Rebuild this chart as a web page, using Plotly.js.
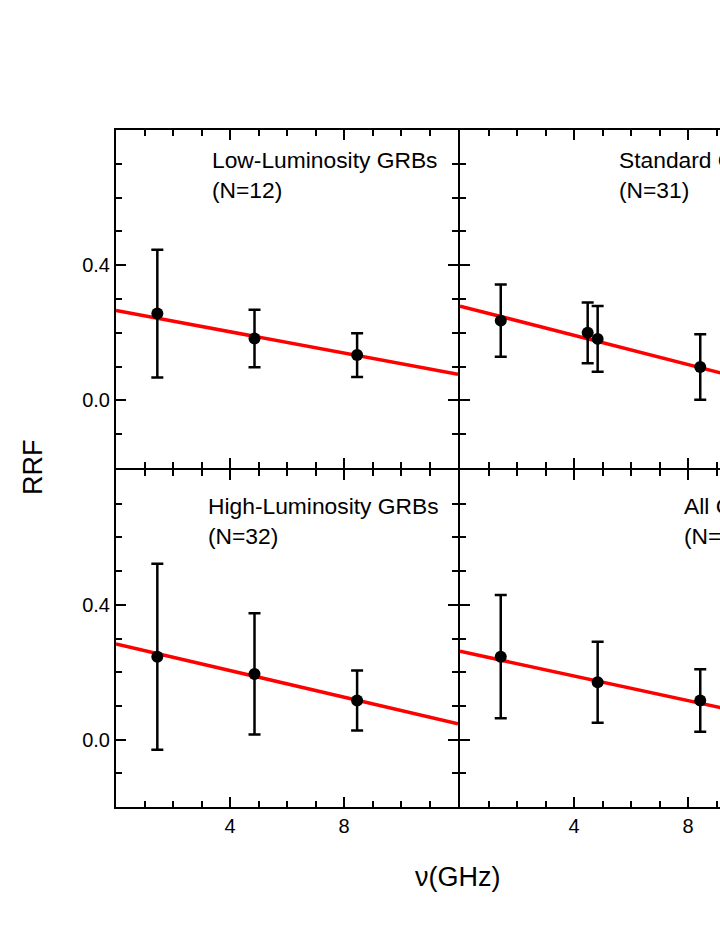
<!DOCTYPE html>
<html>
<head>
<meta charset="utf-8">
<script src="https://cdn.plot.ly/plotly-3.0.1.min.js"></script>
<style>
	html, body { margin: 0; padding: 0; overflow: hidden; background: #fff; }
	#plot { width: 900px; height: 931px; }
</style>
</head>
<body>
<div id="plot"></div>
<script>
"use strict"

// frequencies (GHz), RRF values and errors per sample
let nuLow = [1.45, 4.86, 8.46],
	rrfLow = [0.257, 0.183, 0.134],
	errLow = [0.189, 0.085, 0.065];

let nuStd = [1.43, 4.48, 4.83, 8.43],
	rrfStd = [0.236, 0.200, 0.182, 0.099],
	errStd = [0.107, 0.090, 0.097, 0.097];

let nuHigh = [1.45, 4.86, 8.46],
	rrfHigh = [0.246, 0.195, 0.116],
	errHigh = [0.276, 0.180, 0.089];

let nuAll = [1.43, 4.83, 8.43],
	rrfAll = [0.246, 0.170, 0.116],
	errAll = [0.183, 0.120, 0.093];

// linear fits: RRF = a + b*nu
let fitIntercept = [0.266, 0.279, 0.284, 0.262],
	fitSlope = [-0.01575, -0.0216, -0.01975, -0.0183];

let panelNames = ['Low-Luminosity GRBs', 'Standard GRBs', 'High-Luminosity GRBs', 'All GRBs'],
	panelN = [12, 31, 32, 75];

let xRange = [0, 12],
	yRange = [-0.2, 0.8];

let font = 'Arial, "Liberation Sans", sans-serif';

let samples = [
	[nuLow, rrfLow, errLow],
	[nuStd, rrfStd, errStd],
	[nuHigh, rrfHigh, errHigh],
	[nuAll, rrfAll, errAll]
];

let dataList = [];
for(let i=0;i<samples.length;i++){
	let ax = i === 0 ? '' : String(i+1);
	let s = samples[i];
	dataList.push({
		x: xRange,
		y: xRange.map(v => fitIntercept[i] + fitSlope[i]*v),
		xaxis: 'x' + ax,
		yaxis: 'y' + ax,
		mode: 'lines',
		type: 'scatter',
		line: {color: '#ff0000', width: 3.5},
		hoverinfo: 'skip'
	});
	dataList.push({
		x: s[0],
		y: s[1],
		xaxis: 'x' + ax,
		yaxis: 'y' + ax,
		mode: 'markers',
		type: 'scatter',
		marker: {color: '#000', size: 12},
		error_y: {type: 'data', array: s[2], visible: true, color: '#000', thickness: 2.5, width: 6}
	});
}

function xAxis(domain, anchor, labels){
	return {
		domain: domain,
		anchor: anchor,
		range: xRange,
		tickvals: [0, 4, 8, 12],
		ticktext: labels ? ['', '4', '8', ''] : ['', '', '', ''],
		ticks: 'inside',
		ticklen: 10,
		tickwidth: 2,
		tickcolor: '#000',
		minor: {dtick: 1, ticks: 'inside', ticklen: 6, tickwidth: 2, tickcolor: '#000'},
		showline: true,
		linewidth: 2,
		linecolor: '#000',
		mirror: 'ticks',
		showgrid: false,
		zeroline: false,
		tickfont: {family: font, size: 20, color: '#000'}
	};
}

function yAxis(domain, anchor, labels){
	return {
		domain: domain,
		anchor: anchor,
		range: yRange,
		tickvals: [0, 0.4, 0.8],
		ticktext: labels ? ['0.0', '0.4', ''] : ['', '', ''],
		ticks: 'inside',
		ticklen: 10,
		tickwidth: 2,
		tickcolor: '#000',
		minor: {dtick: 0.1, ticks: 'inside', ticklen: 6, tickwidth: 2, tickcolor: '#000'},
		showline: true,
		linewidth: 2,
		linecolor: '#000',
		mirror: 'ticks',
		showgrid: false,
		zeroline: false,
		tickfont: {family: font, size: 20, color: '#000'}
	};
}

// plot area 686 x 677 px; panels 342 wide, shared borders overlap
let plotW = 686,
	plotH = 677;
let colLeft = [0, 342/plotW],
	colRight = [344/plotW, 1],
	rowTop = [339/plotH, 1],
	rowBottom = [0, 337/plotH];

let labelX = [3.3, 5.5, 3.15, 7.8],
	labelY = [0.757, 0.757, 0.737, 0.737];

let annotations = [];
for(let i=0;i<panelNames.length;i++){
	let ax = i === 0 ? '' : String(i+1);
	annotations.push({
		xref: 'x' + ax,
		yref: 'y' + ax,
		x: labelX[i],
		y: labelY[i],
		xanchor: 'left',
		yanchor: 'top',
		align: 'left',
		text: panelNames[i] + '<br>(N=' + panelN[i] + ')',
		showarrow: false,
		font: {family: font, size: 22.8, color: '#000'}
	});
}
annotations.push({
	xref: 'paper', yref: 'paper',
	x: (33 - 116)/plotW, y: (807 - 467)/plotH,
	xanchor: 'center', yanchor: 'middle',
	text: 'RRF', textangle: -90,
	showarrow: false,
	font: {family: font, size: 27, color: '#000'}
});
annotations.push({
	xref: 'paper', yref: 'paper',
	x: (457 - 116)/plotW, y: (807 - 877)/plotH,
	xanchor: 'center', yanchor: 'middle',
	text: '\u03bd(GHz)',
	showarrow: false,
	font: {family: font, size: 27, color: '#000'}
});

let layout = {
	width: 900,
	height: 931,
	margin: {l: 116, r: 900 - 116 - plotW, t: 130, b: 931 - 130 - plotH, pad: 0},
	paper_bgcolor: '#fff',
	plot_bgcolor: '#fff',
	showlegend: false,
	xaxis: xAxis(colLeft, 'y', false),
	yaxis: yAxis(rowTop, 'x', true),
	xaxis2: xAxis(colRight, 'y2', false),
	yaxis2: yAxis(rowTop, 'x2', false),
	xaxis3: xAxis(colLeft, 'y3', true),
	yaxis3: yAxis(rowBottom, 'x3', true),
	xaxis4: xAxis(colRight, 'y4', true),
	yaxis4: yAxis(rowBottom, 'x4', false),
	annotations: annotations
};

Plotly.newPlot('plot', dataList, layout, {displayModeBar: false, staticPlot: true});
</script>
</body>
</html>
